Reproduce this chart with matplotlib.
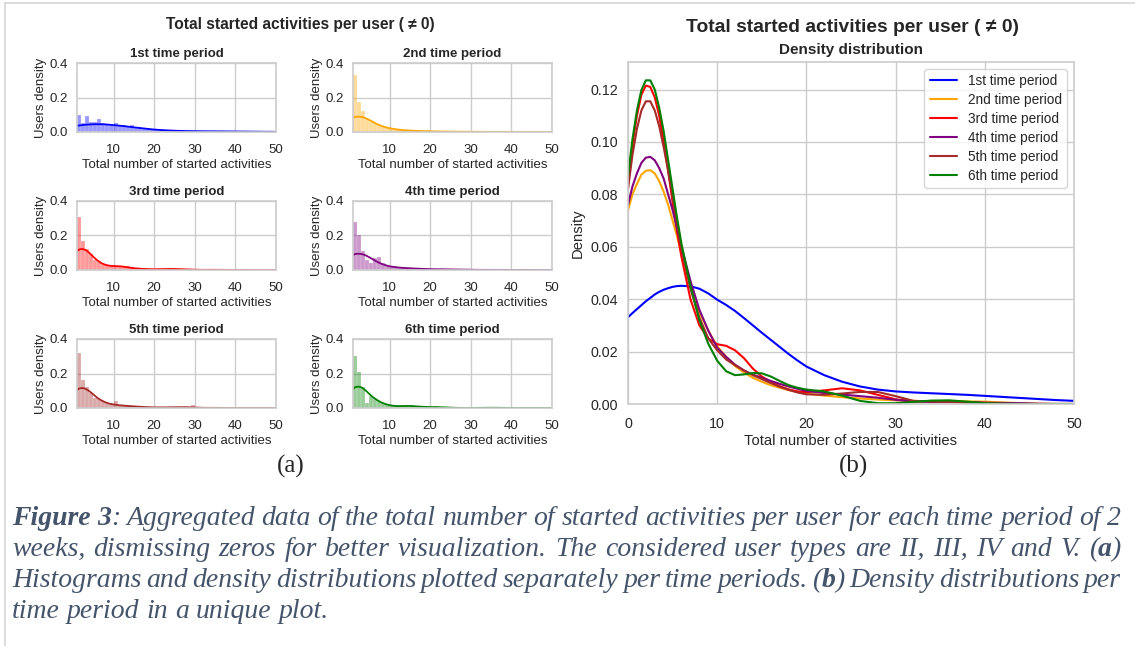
import matplotlib
matplotlib.use("Agg")
import matplotlib.pyplot as plt
from matplotlib.lines import Line2D
import seaborn as sns

W, H = 1135, 646

PERIODS = ["1st time period", "2nd time period", "3rd time period",
           "4th time period", "5th time period", "6th time period"]
COLORS = ["blue", "orange", "red", "purple", "brown", "green"]

# density curves
KDE_X = [0, 0.5, 1, 1.5, 2, 2.5, 3, 3.5, 4, 4.5, 5, 5.5, 6, 7, 8, 9,
         10, 11, 12, 13, 14, 15, 16, 17, 18, 19,
         20, 22, 24, 26, 28, 30, 32, 34, 36, 38, 40, 42, 44, 46, 48, 50]
KDE_P1 = [.0331, .0347, .0362, .0377, .0392, .0405, .0418, .0428, .0436, .0442,
          .0447, .0450, .0451, .0449, .0440, .0422,
          .0398, .0378, .0355, .0328, .0300, .0272, .0245, .0218, .0191, .0166,
          .0143, .0110, .0085, .0067, .0055, .0048, .0044, .0041, .0038, .0035,
          .0031, .0027, .0023, .0019, .0015, .0012]
KDE_P2 = [.074, .080, .084, .0875, .089, .0892, .088, .085, .081, .076,
          .070, .064, .057, .045, .035, .028,
          .022, .018, .0145, .012, .010, .0085, .0072, .0062, .0053, .0046,
          .0040, .0032, .0026, .0021, .0017, .0014, .0012, .0010, .0010, .0010,
          .0009, .0006, .0003, .0001, 0, 0]
KDE_P3 = [.085, .099, .110, .118, .1215, .121, .117, .110, .100, .089,
          .077, .066, .056, .040, .030, .025,
          .0228, .0222, .0205, .0175, .0135, .0105, .0085, .0068, .0056, .0048,
          .0045, .0052, .0060, .0052, .0035, .0018, .0010, .0011, .0011, .0007,
          .0004, .0002, .0001, 0, 0, 0]
KDE_P4 = [.076, .083, .088, .092, .094, .0943, .093, .090, .086, .080,
          .074, .067, .060, .047, .036, .028,
          .0215, .018, .015, .0128, .0112, .010, .0088, .0077, .0067, .0058,
          .0050, .0042, .0036, .0030, .0024, .0016, .0010, .0008, .0008, .0007,
          .0005, .0004, .0003, .0001, 0, 0]
KDE_P5 = [.082, .095, .105, .112, .1155, .1155, .112, .106, .098, .089,
          .079, .069, .059, .044, .033, .025,
          .0205, .017, .0148, .0128, .011, .0095, .008, .0066, .0054, .0044,
          .0037, .0035, .0040, .0046, .0046, .0030, .0012, .0009, .0008, .0005,
          .0003, .0001, 0, 0, 0, 0]
KDE_P6 = [.087, .101, .112, .1198, .1235, .1235, .120, .113, .104, .093,
          .082, .071, .061, .045, .032, .023,
          .0165, .0125, .0110, .0113, .0118, .0117, .0105, .0088, .0072, .0062,
          .0055, .0048, .0032, .0012, .0003, .0003, .0008, .0013, .0014, .0009,
          .0003, .0001, 0, 0, 0, 0]
KDES = [KDE_P1, KDE_P2, KDE_P3, KDE_P4, KDE_P5, KDE_P6]

# histogram heights (density), bins of width 1 starting at 1
HIST_EDGES = list(range(1, 51))
HIST_P1 = [.097, .052, .093, .057, .060, .075, .050, .045, .040, .055,
           .042, .040, .035, .038, .028, .022, .020, .018, .016, .014,
           .012, .010, .009, .008, .007, .006, .006, .005, .005, .004,
           .004, .004, .004, .003, .003, .003, .003, .003, .003, .003,
           .002, .002, .002, .002, .002, .001, .001, .001, .001]
HIST_P2 = [.33, .175, .12, .078, .063, .053, .044, .035, .030, .025,
           .020, .020, .013, .010, .008, .006, .005, .008, .010, .003,
           .002, .002, .001, .001, .001, .001, .001, .008, .002]
HIST_P3 = [.31, .17, .12, .09, .06, .045, .035, .027, .022, .025,
           .020, .020, .025, .015, .012, .010, .008, .006, .005, .005,
           .004, .005, .006, .006, .005, .004, .003, .002, .002, .002,
           .002, .001, .001, .001, .001]
HIST_P4 = [.28, .20, .11, .06, .04, .07, .075, .04, .025, .022,
           .015, .012, .010, .008, .007, .006, .006, .005, .005, .004,
           .004, .004, .006, .003, .003, .002, .002, .002, .001, .001,
           .001, .001, .001, .001, .001, .001, .002, .001]
HIST_P5 = [.32, .165, .12, .085, .06, .05, .04, .03, .022, .038,
           .020, .015, .020, .010, .008, .007, .006, .004, .004, .003,
           .003, .003, .004, .005, .005, .004, .004, .005, .015, .003,
           .002, .001, .001, .001, .001, .001]
HIST_P6 = [.30, .21, .12, .03, .07, .05, .04, .03, .02, .015,
           .012, .010, .009, .013, .015, .010, .006, .005, .004, .004,
           .012, .003, .002, .002, .001, .001, .001, .001, .001, .001,
           .001, .001, .001, .001, .003, .001]
HISTS = [HIST_P1, HIST_P2, HIST_P3, HIST_P4, HIST_P5, HIST_P6]

CAPTION = [
    "**Figure 3**: Aggregated data of the total number of started activities per user for each time period of 2",
    "weeks, dismissing zeros for better visualization. The considered user types are II, III, IV and V. (**a**)",
    "Histograms and density distributions plotted separately per time periods. (**b**) Density distributions per",
    "time period in a unique plot.",
]
CAP_COLOR = "#44546A"

sns.set_style("whitegrid")
plt.rcParams["font.family"] = ["Liberation Sans", "DejaVu Sans"]
plt.rcParams["axes.linewidth"] = 1.2
plt.rcParams["grid.linewidth"] = 1.0


def px_box(l, t, r, b):
    return [l / W, 1 - b / H, (r - l) / W, (b - t) / H]


def ftext(x, y, s, **kw):
    return fig.text(x / W, 1 - y / H, s, **kw)


fig = plt.figure(figsize=(W / 100, H / 100), dpi=100)

# ---- (a) small panels
cols = [(77, 276), (353, 552)]
rows = [63, 201, 339]
for i, (name, col, kde, hist) in enumerate(zip(PERIODS, COLORS, KDES, HISTS)):
    l, r = cols[i % 2]
    t = rows[i // 2]
    ax = fig.add_axes(px_box(l, t, r, t + 69))
    ax.bar(HIST_EDGES[:len(hist)], hist, width=1, align="edge", color=col,
           alpha=0.4, edgecolor="white", linewidth=0.3)
    ax.plot(KDE_X, kde, color=col, linewidth=1.3)
    ax.set_xlim(1, 50)
    ax.set_ylim(0, 0.4)
    ax.set_xticks([10, 20, 30, 40, 50])
    ax.set_yticks([0.0, 0.2, 0.4])
    ax.tick_params(labelsize=9.5)
    ax.tick_params(axis="x", pad=5)
    ax.tick_params(axis="y", pad=3)
    ax.set_title(name, fontsize=9.5, fontweight="bold", pad=4)
    ax.set_xlabel("Total number of started activities", fontsize=9.5, labelpad=2)
    ax.set_ylabel("Users density", fontsize=9.5, labelpad=2)

ftext(300, 24, "Total started activities per user ( \u2260 0)", fontsize=11.2,
      fontweight="bold", ha="center", va="center", color=".15")

# ---- (b) all densities together
axb = fig.add_axes(px_box(628, 62, 1074, 404))
for name, col, kde in zip(PERIODS, COLORS, KDES):
    axb.plot(KDE_X, kde, color=col, linewidth=1.5, label=name)
axb.set_xlim(0, 50)
axb.set_ylim(0, 0.1305)
axb.set_xticks([0, 10, 20, 30, 40, 50])
axb.set_yticks([0.0, 0.02, 0.04, 0.06, 0.08, 0.10, 0.12])
axb.set_yticklabels(["0.00", "0.02", "0.04", "0.06", "0.08", "0.10", "0.12"])
axb.tick_params(labelsize=10.3)
axb.tick_params(axis="x", pad=6)
axb.set_xlabel("Total number of started activities", fontsize=10.6, labelpad=2)
axb.set_ylabel("Density", fontsize=10.6)
axb.set_title("Density distribution", fontsize=11, fontweight="bold", pad=6)
axb.legend(loc="upper right", fontsize=9.8, frameon=True, labelspacing=0.36)

ftext(853, 28, "Total started activities per user ( \u2260 0)", fontsize=13.9,
      fontweight="bold", ha="center", va="center", color=".15")

# ---- sub-figure labels
ftext(291, 466, "(a)", fontsize=18, family="Liberation Serif", ha="center", va="center")
ftext(853, 466, "(b)", fontsize=18, family="Liberation Serif", ha="center", va="center")

# page box edges
fig.add_artist(Line2D([5 / W, 5 / W], [0, 1 - 3 / H], color="#d6d6d6", linewidth=1.2))
fig.add_artist(Line2D([5 / W, 1], [1 - 3 / H, 1 - 3 / H], color="#d6d6d6", linewidth=1.2))


# ---- caption, justified line by line
def parse(line):
    words = [[]]
    for k, seg in enumerate(line.split("**")):
        bold = k % 2 == 1
        for j, p in enumerate(seg.split(" ")):
            if j > 0:
                words.append([])
            if p:
                words[-1].append((p, bold))
    return [w for w in words if w]


renderer = fig.canvas.get_renderer()
cap_kw = dict(fontsize=20, style="italic", family="Liberation Serif",
              color=CAP_COLOR, va="baseline")
x0, x1 = 12, 1121
for n, line in enumerate(CAPTION):
    y = 525 + n * 31
    placed = []
    for word in parse(line):
        arts = []
        for txt, bold in word:
            a = ftext(0, y, txt, fontweight="bold" if bold else "normal", **cap_kw)
            arts.append((a, a.get_window_extent(renderer).width))
        placed.append(arts)
    widths = [sum(w for _, w in arts) for arts in placed]
    if n < len(CAPTION) - 1:
        gap = (x1 - x0 - sum(widths)) / (len(placed) - 1)
    else:
        probe = ftext(0, y, "a a", **cap_kw)
        probe2 = ftext(0, y, "aa", **cap_kw)
        gap = probe.get_window_extent(renderer).width - probe2.get_window_extent(renderer).width
        probe.remove()
        probe2.remove()
    x = x0
    for arts in placed:
        for a, w in arts:
            a.set_x(x / W)
            x += w
        x += gap

fig.savefig("out.png", dpi=100)
